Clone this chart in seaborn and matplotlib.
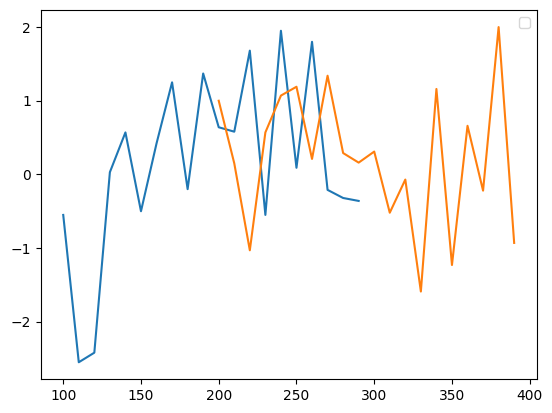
import matplotlib
matplotlib.use("Agg")
import matplotlib.pyplot as plt
import seaborn as sns
import pandas as pd

x_blue = list(range(100, 300, 10))
y_blue = [-0.55, -2.55, -2.42, 0.03, 0.57, -0.50, 0.42, 1.25, -0.20, 1.37,
          0.64, 0.58, 1.68, -0.55, 1.95, 0.09, 1.80, -0.21, -0.32, -0.36]

x_orange = list(range(200, 400, 10))
y_orange = [1.00, 0.15, -1.03, 0.57, 1.07, 1.19, 0.21, 1.34, 0.29, 0.16,
            0.31, -0.52, -0.07, -1.59, 1.16, -1.23, 0.66, -0.22, 2.00, -0.93]

df_blue = pd.DataFrame({"x": x_blue, "y": y_blue})
df_orange = pd.DataFrame({"x": x_orange, "y": y_orange})

fig = plt.figure(figsize=(5.52, 4.13), dpi=100)
ax = fig.add_axes([0.0737, 0.0823, 0.9723 - 0.0737, 0.975 - 0.0823])
sns.lineplot(data=df_blue, x="x", y="y", ax=ax, color="C0")
sns.lineplot(data=df_orange, x="x", y="y", ax=ax, color="C1")
ax.set_xlabel("")
ax.set_ylabel("")
ax.legend(loc="upper right")
fig.savefig("out.png", dpi=100)
